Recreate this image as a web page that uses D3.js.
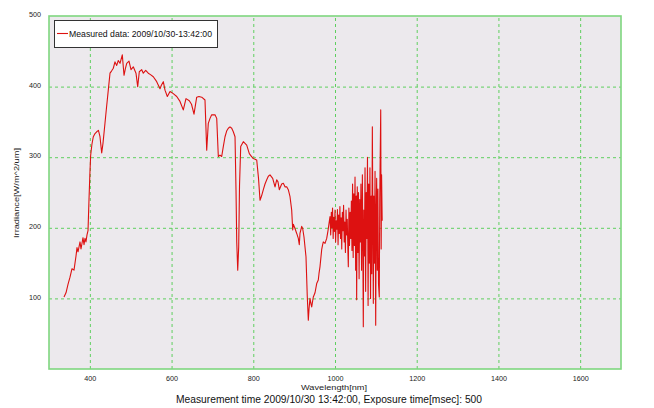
<!DOCTYPE html>
<html>
<head>
<meta charset="utf-8">
<script src="https://cdn.jsdelivr.net/npm/d3@7"></script>
<style>
  body { margin: 0; background: #ffffff; }
  text { font-family: "Liberation Sans", "DejaVu Sans", sans-serif; }
</style>
</head>
<body>
<svg id="chart" width="654" height="408"></svg>
<script>
// Spectral irradiance sample, wavelength in nm
const wavelength = [
  336.7, 341.6, 346.5, 351.4, 356.3, 361.2, 366.1, 368.5, 371, 375.9,
  378.3, 383.2, 385.7, 388.1, 390.5, 393, 395.5, 397.9, 400, 402,
  405, 408.4, 412, 416.7, 421, 424.8, 429, 432.2, 437, 440.7,
  445.1, 449.3, 453, 457.4, 461.5, 465.7, 469.6, 473.8, 479.4, 483.6,
  486.8, 490.2, 495.8, 500.7, 506.3, 512.9, 517.1, 521, 526.9, 530.8,
  536.7, 543, 548.4, 555.3, 563.6, 571.7, 575, 579.8, 583.9, 589.6,
  596.2, 604.2, 612.6, 620.6, 628.7, 635.3, 643.4, 648.8, 654.9, 661.5,
  667, 673.8, 681.8, 686, 689.9, 694.1, 698.2, 702.1, 706.3, 710.5,
  714.4, 718.5, 722.7, 726.6, 730.8, 734.8, 738.9, 743, 747.2, 751.1,
  755.3, 757.7, 759.5, 761.9, 764.3, 766.3, 769.2, 775.6, 783.9, 790.3,
  794.4, 800, 808.4, 812.8, 816.5, 820.2, 824.6, 828.7, 832.9, 836.8,
  840.9, 847.5, 853.2, 857.3, 860.5, 863.7, 869.5, 873.5, 877.6, 881.8,
  885.7, 889.9, 894, 896.5, 898, 902.1, 906.3, 910.2, 912.6, 914.3,
  918.5, 920.9, 924.1, 929, 932.2, 934.7, 936.4, 938.8, 941.3, 943,
  944.9, 946.9, 951.1, 955.2, 959.1, 960.8, 963.3, 967.4, 969.4, 971.4,
  975.5, 979.7, 982.9, 985.3, 987.8,
  989.5, 991, 992.5, 994, 995.5, 997, 998.5, 1000, 1001.5, 1003,
  1004.5, 1006, 1007.5, 1009, 1010.5, 1012, 1013.5, 1015, 1016.5, 1018,
  1019.5, 1021, 1022.5, 1024, 1025.5, 1027, 1028.5, 1030, 1031.5, 1032.6,
  1034, 1035.5, 1037, 1038.5, 1040, 1041.5, 1043, 1044.5, 1046, 1047.5,
  1049, 1050.5, 1052, 1053, 1054.5, 1056, 1057.5, 1059, 1060.5, 1062,
  1063.5, 1065, 1067, 1069.3, 1070.5, 1072, 1073.5, 1075, 1076.5, 1078,
  1079.5, 1081, 1082.5, 1084, 1085.5, 1087, 1088.5, 1090, 1091.4, 1093.8,
  1095, 1096.5, 1098, 1099.6, 1101, 1102, 1103.5, 1105, 1106.5, 1108.4,
  1109.5, 1111.9, 1113, 1114, 1115.5
];

// Irradiance in W/m^2/um at each wavelength above
const irradiance = [
  102, 108, 120, 130, 142, 140, 160, 172, 166, 180,
  170, 186, 176, 185, 180, 190, 196, 240, 275, 303,
  318, 329, 333, 336, 338, 329, 306, 320, 348, 370,
  395, 419, 422, 426, 435, 430, 437, 433, 445, 416,
  425, 433, 436, 424, 428, 419, 400, 421, 424, 419,
  423, 419, 417, 414, 407, 397, 402, 407, 395, 386,
  393, 390, 386, 379, 367, 383, 380, 375, 361, 385,
  386, 385, 381, 310, 348, 355, 360, 360, 360, 355,
  301, 303, 301, 315, 329, 337, 341, 343, 341, 336,
  329, 254, 180, 140, 173, 260, 315, 322, 317, 305,
  302, 298, 296, 270, 239, 245, 254, 262, 268, 273,
  275, 270, 258, 268, 265, 254, 262, 263, 258, 258,
  254, 244, 225, 197, 205, 199, 192, 185, 176, 192,
  202, 199, 187, 159, 102, 69, 85, 100, 92, 88,
  95, 102, 108, 121, 126, 135, 145, 169, 175, 180,
  178, 185, 196, 206, 216,
  190, 222, 200, 228, 185, 215, 195, 225, 180, 210,
  198, 226, 176, 218, 192, 230, 185, 214, 170, 222,
  196, 232, 180, 208, 165, 225, 190, 212, 170, 145,
  228, 175, 222, 185, 238, 168, 262, 158, 248, 175,
  272, 140, 245, 98, 258, 165, 250, 128, 240, 180,
  262, 140, 275, 60, 225, 160, 285, 110, 250, 185,
  300, 90, 262, 150, 285, 100, 245, 135, 343, 93,
  245, 150, 280, 62, 230, 270, 140, 255, 120, 102,
  240, 367, 170, 275, 210
];

const xTicks = [400, 600, 800, 1000, 1200, 1400, 1600];
const yTicks = [100, 200, 300, 400, 500];
const yGrid = [100, 200, 300, 400];

const legendLabel = "Measured data: 2009/10/30-13:42:00";
const xTitle = "Wavelength[nm]";
const yTitle = "Irradiance[W/m^2/um]";
const caption = "Measurement time 2009/10/30 13:42:00, Exposure time[msec]: 500";

const width = 654, height = 408;
const margin = { top: 16, right: 33, bottom: 39, left: 49 };
const plotW = width - margin.left - margin.right;
const plotH = height - margin.top - margin.bottom;

const x = d3.scaleLinear().domain([300, 1700]).range([margin.left, margin.left + plotW]);
const y = d3.scaleLinear().domain([0, 500]).range([margin.top + plotH, margin.top]);

const svg = d3.select("#chart");

// Plot background
svg.append("rect")
  .attr("x", margin.left).attr("y", margin.top)
  .attr("width", plotW).attr("height", plotH)
  .attr("fill", "#ece9ed");

// Dashed grid
const gridColor = "#5fcf5f";
const gx = svg.append("g")
  .attr("transform", `translate(0,${margin.top + plotH})`)
  .call(d3.axisBottom(x).tickValues(xTicks).tickSize(-plotH).tickFormat(""));
const gy = svg.append("g")
  .attr("transform", `translate(${margin.left},0)`)
  .call(d3.axisLeft(y).tickValues(yGrid).tickSize(-plotW).tickFormat(""));
[gx, gy].forEach(g => {
  g.select(".domain").remove();
  g.selectAll(".tick line")
    .attr("stroke", gridColor)
    .attr("stroke-width", 1)
    .attr("stroke-dasharray", "3,3");
});

// Tick labels
const tickFont = 7.2;
const ax = svg.append("g")
  .attr("transform", `translate(0,${margin.top + plotH})`)
  .call(d3.axisBottom(x).tickValues(xTicks).tickSize(0).tickPadding(7).tickFormat(d3.format("d")));
const ay = svg.append("g")
  .attr("transform", `translate(${margin.left},0)`)
  .call(d3.axisLeft(y).tickValues(yTicks).tickSize(0).tickPadding(8).tickFormat(d3.format("d")));
[ax, ay].forEach(g => {
  g.select(".domain").remove();
  g.selectAll(".tick text")
    .attr("fill", "#222")
    .style("font-family", "'Liberation Sans', sans-serif")
    .style("font-size", tickFont + "px");
});
ay.selectAll(".tick text").attr("dy", "0.1em");

// Spectrum line
const line = d3.line()
  .x((d, i) => x(wavelength[i]))
  .y(d => y(d));
svg.append("path")
  .datum(irradiance)
  .attr("fill", "none")
  .attr("stroke", "#dd1111")
  .attr("stroke-width", 1.1)
  .attr("stroke-linejoin", "round")
  .attr("d", line);

// Plot frame
svg.append("rect")
  .attr("x", margin.left).attr("y", margin.top)
  .attr("width", plotW).attr("height", plotH)
  .attr("fill", "none")
  .attr("stroke", "#7fd67f")
  .attr("stroke-width", 1.6);

// Legend
const lg = svg.append("g");
lg.append("rect")
  .attr("x", 54.5).attr("y", 20.5).attr("width", 163).attr("height", 27)
  .attr("fill", "#ffffff").attr("stroke", "#333").attr("stroke-width", 1);
lg.append("line")
  .attr("x1", 57).attr("x2", 68).attr("y1", 33.5).attr("y2", 33.5)
  .attr("stroke", "#dd1111").attr("stroke-width", 1.1);
lg.append("text")
  .attr("x", 69).attr("y", 37)
  .attr("font-size", 9)
  .attr("fill", "#111")
  .attr("textLength", 143).attr("lengthAdjust", "spacingAndGlyphs")
  .text(legendLabel);

// Axis titles
svg.append("text")
  .attr("x", 334).attr("y", 389.5)
  .attr("text-anchor", "middle")
  .attr("font-size", 8)
  .attr("fill", "#222")
  .attr("textLength", 66).attr("lengthAdjust", "spacingAndGlyphs")
  .text(xTitle);
svg.append("text")
  .attr("transform", "translate(19,193) rotate(-90)")
  .attr("text-anchor", "middle")
  .attr("font-size", 8)
  .attr("fill", "#222")
  .attr("textLength", 90).attr("lengthAdjust", "spacingAndGlyphs")
  .text(yTitle);

// Caption
svg.append("text")
  .attr("x", 329).attr("y", 403)
  .attr("text-anchor", "middle")
  .attr("font-size", 10)
  .attr("fill", "#111")
  .attr("textLength", 306).attr("lengthAdjust", "spacingAndGlyphs")
  .text(caption);
</script>
</body>
</html>
